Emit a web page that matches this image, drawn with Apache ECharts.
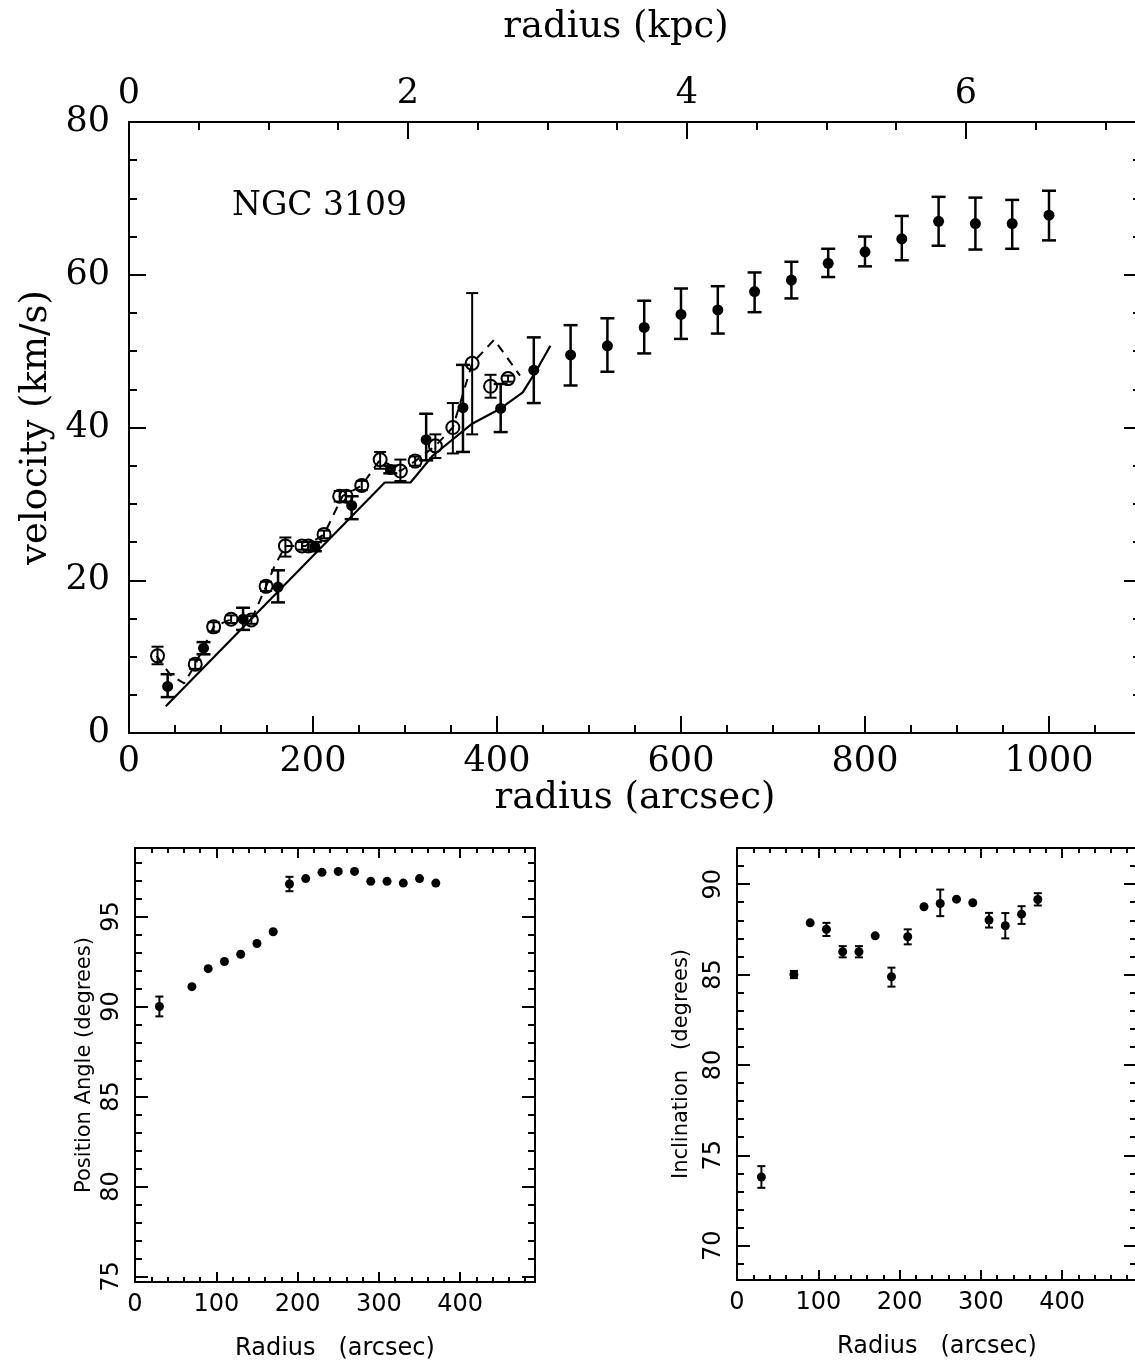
<!DOCTYPE html>
<html>
<head>
<meta charset="utf-8">
<script src="https://cdn.jsdelivr.net/npm/echarts@6/dist/echarts.min.js"></script>
<style>
  html, body { margin: 0; padding: 0; background: #fff; }
  #chart { width: 1135px; height: 1367px; }
</style>
</head>
<body>
<div id="chart"></div>
<script>
// rotation curve, [radius arcsec, velocity, low, high]
var velFilled = [
  [42, 6.1, 4.7, 7.7], [81, 11.1, 10.3, 11.9], [124, 14.9, 13.5, 16.4],
  [162, 19.1, 17.1, 21.3], [202, 24.4, 23.8, 25.0], [242, 29.8, 28.0, 31.0],
  [284, 34.5, 34.0, 35.0], [323, 38.4, 35.7, 41.8], [363, 42.6, 36.8, 48.2],
  [404, 42.5, 39.4, 45.7], [440, 47.5, 43.2, 51.8], [480, 49.5, 45.5, 53.4],
  [520, 50.7, 47.3, 54.3], [560, 53.1, 49.7, 56.6], [600, 54.8, 51.6, 58.2],
  [640, 55.4, 52.3, 58.5], [680, 57.8, 55.1, 60.3], [720, 59.3, 56.9, 61.7],
  [760, 61.5, 59.7, 63.4], [800, 63.0, 61.1, 65.0], [840, 64.7, 61.9, 67.7],
  [880, 67.0, 63.8, 70.2], [920, 66.7, 63.3, 70.1], [960, 66.7, 63.4, 69.8],
  [1000, 67.8, 64.5, 71.0]
];
var velOpen = [
  [31, 10.1, 9.0, 11.3], [72, 9.0, 8.4, 9.6], [92, 13.9, 13.3, 14.5],
  [111, 14.9, 14.4, 15.4], [133, 14.8, 14.3, 15.3], [149, 19.2, 18.6, 19.8],
  [170, 24.5, 23.1, 25.6], [188, 24.5, 24.0, 25.0], [195, 24.5, 24.0, 25.0],
  [212, 26.0, 25.5, 26.5], [229, 31.0, 30.3, 31.7], [236, 31.0, 30.3, 31.7],
  [253, 32.4, 31.8, 33.0], [273, 35.8, 34.6, 36.8], [295, 34.3, 33.0, 35.8],
  [311, 35.6, 35.0, 36.2], [333, 37.6, 36.0, 39.1], [352, 40.0, 36.6, 43.2],
  [373, 48.4, 39.1, 57.6], [393, 45.4, 43.9, 46.9], [412, 46.4, 46.0, 46.8]
];
var modelSolid = [[40, 3.5], [278, 32.8], [306, 32.8], [330, 36.3], [373, 40.5],
  [404, 42.5], [428, 44.6], [443, 47.5], [458, 50.7]];
var modelDashed = [[30, 10.1], [45, 7.6], [60, 6.5], [72, 9.0], [92, 13.9], [111, 14.9],
  [133, 14.8], [149, 19.2], [158, 21.8], [170, 24.5], [192, 24.5], [212, 26.0],
  [232, 31.0], [253, 32.4], [273, 35.8], [295, 34.3], [311, 35.6], [333, 37.6],
  [352, 40.0], [362, 44.0], [373, 48.4], [397, 51.5], [425, 46.8]];

// tilted ring fits
var ringRadius = [30, 70, 90, 110, 130, 150, 170, 190, 210, 230, 250, 270, 290, 310, 330, 350, 370];
var posAngle = [90.0, 91.1, 92.1, 92.5, 92.9, 93.5, 94.15, 96.8, 97.1, 97.45, 97.5, 97.5,
  96.95, 96.95, 96.85, 97.1, 96.85];
var posAngleErr = [[30, 89.45, 90.55], [190, 96.4, 97.2]];
var inclination = [73.8, 85.0, 87.86, 87.5, 86.26, 86.26, 87.14, 84.88, 87.09, 88.75, 88.93,
  89.17, 88.97, 88.01, 87.7, 88.34, 89.15];
var inclinationErr = [[30, 73.2, 74.4], [70, 84.8, 85.2], [110, 87.13, 87.86], [130, 85.95, 86.57],
  [150, 85.95, 86.57], [190, 84.33, 85.38], [210, 86.67, 87.5], [250, 88.23, 89.7],
  [310, 87.6, 88.41], [330, 87.0, 88.4], [350, 87.8, 88.78], [370, 88.82, 89.5]];

var arcsecTicks = [0, 200, 400, 600, 800, 1000];
var kpcTicks = [0, 2, 4, 6];
var velTicks = [0, 20, 40, 60, 80];
var ringTicks = [0, 100, 200, 300, 400];
var paTicks = [75, 80, 85, 90, 95];
var inclTicks = [70, 75, 80, 85, 90];

var ARCSEC_PER_KPC = 151.6;

function steps(a, b, s) {
  var out = [];
  for (var v = a; v <= b + 1e-9; v += s) out.push(+v.toFixed(4));
  return out;
}

function axis(grid, pos, min, max, ticks, len, o) {
  o = o || {};
  var lw = o.lw || 2;
  var a = {
    type: 'value', gridIndex: grid, position: pos, min: min, max: max,
    splitLine: {show: false},
    axisLine: {show: true, onZero: false, lineStyle: {color: '#000', width: lw}},
    axisTick: {show: true, inside: true, length: len, customValues: ticks,
      lineStyle: {color: '#000', width: lw}},
    axisLabel: {show: false}
  };
  if (o.labels) {
    a.axisLabel = Object.assign({show: true, customValues: o.labels, color: '#000',
      formatter: function (v) { return String(v); }}, o.labelStyle);
  }
  if (o.name) {
    a.name = o.name;
    a.nameLocation = 'middle';
    a.nameGap = o.nameGap;
    a.nameTextStyle = o.nameStyle;
  }
  return a;
}

var serif = {fontFamily: 'DejaVu Serif', fontSize: 35, color: '#000'};
var serifName = {fontFamily: 'DejaVu Serif', fontSize: 37, color: '#000'};
var sans = {fontFamily: 'DejaVu Sans', fontSize: 24, color: '#000'};
var sansName = {fontFamily: 'DejaVu Sans', fontSize: 21, color: '#000'};

var kpcMax = 1100 / ARCSEC_PER_KPC;

var xAxes = [
  axis(0, 'bottom', 0, 1100, arcsecTicks, 17, {lw: 2, labels: arcsecTicks,
    labelStyle: Object.assign({margin: 11}, serif),
    name: 'radius (arcsec)', nameGap: 44, nameStyle: serifName}),
  axis(0, 'bottom', 0, 1100, steps(0, 1100, 50), 8, {lw: 2}),
  axis(0, 'top', 0, kpcMax, kpcTicks, 17, {lw: 2, labels: kpcTicks,
    labelStyle: Object.assign({margin: 11}, serif),
    name: 'radius (kpc)', nameGap: 76,
    nameStyle: Object.assign({padding: [0, 38, 0, 0]}, serifName)}),
  axis(0, 'top', 0, kpcMax, steps(0, 7, 0.5), 8, {lw: 2}),

  axis(1, 'bottom', 0, 492, ringTicks, 10, {labels: ringTicks,
    labelStyle: Object.assign({margin: 11}, sans),
    name: 'Radius   (arcsec)', nameGap: 55, nameStyle: sans}),
  axis(1, 'bottom', 0, 492, steps(0, 480, 20), 5),
  axis(1, 'top', 0, 492, ringTicks, 10),
  axis(1, 'top', 0, 492, steps(0, 480, 20), 5),

  axis(2, 'bottom', 0, 492, ringTicks, 10, {labels: ringTicks,
    labelStyle: Object.assign({margin: 11}, sans),
    name: 'Radius   (arcsec)', nameGap: 55, nameStyle: sans}),
  axis(2, 'bottom', 0, 492, steps(0, 480, 20), 5),
  axis(2, 'top', 0, 492, ringTicks, 10),
  axis(2, 'top', 0, 492, steps(0, 480, 20), 5)
];

var yAxes = [
  axis(0, 'left', 0, 80, velTicks, 17, {lw: 2, labels: velTicks,
    labelStyle: Object.assign({margin: 19}, serif),
    name: 'velocity (km/s)', nameGap: 68, nameStyle: serifName}),
  axis(0, 'left', 0, 80, steps(0, 80, 5), 8, {lw: 2}),
  axis(0, 'right', 0, 80, velTicks, 17, {lw: 2}),
  axis(0, 'right', 0, 80, steps(0, 80, 5), 8, {lw: 2}),

  axis(1, 'left', 74.7, 98.8, paTicks, 13, {labels: paTicks,
    labelStyle: Object.assign({margin: 11, rotate: 90}, sans),
    name: 'Position Angle (degrees)', nameGap: 40, nameStyle: sansName}),
  axis(1, 'left', 74.7, 98.8, steps(75, 98, 1), 7),
  axis(1, 'right', 74.7, 98.8, paTicks, 13),
  axis(1, 'right', 74.7, 98.8, steps(75, 98, 1), 7),

  axis(2, 'left', 68.1, 92, inclTicks, 13, {labels: inclTicks,
    labelStyle: Object.assign({margin: 11, rotate: 90}, sans),
    name: 'Inclination   (degrees)', nameGap: 45, nameStyle: sansName}),
  axis(2, 'left', 68.1, 92, steps(69, 92, 1), 7),
  axis(2, 'right', 68.1, 92, inclTicks, 13),
  axis(2, 'right', 68.1, 92, steps(69, 92, 1), 7)
];

function errorBars(capHalf, lw) {
  return function (params, api) {
    var x = api.value(0);
    var lo = api.coord([x, api.value(1)]);
    var hi = api.coord([x, api.value(2)]);
    var st = {stroke: '#000', lineWidth: lw};
    return {
      type: 'group',
      children: [
        {type: 'line', shape: {x1: lo[0], y1: lo[1], x2: hi[0], y2: hi[1]}, style: st},
        {type: 'line', shape: {x1: lo[0] - capHalf, y1: lo[1], x2: lo[0] + capHalf, y2: lo[1]}, style: st},
        {type: 'line', shape: {x1: hi[0] - capHalf, y1: hi[1], x2: hi[0] + capHalf, y2: hi[1]}, style: st}
      ]
    };
  };
}

function errSeries(data, xi, yi, capHalf, lw) {
  return {
    type: 'custom', xAxisIndex: xi, yAxisIndex: yi, silent: true, z: 3,
    renderItem: errorBars(capHalf, lw),
    encode: {x: 0, y: [1, 2]},
    data: data
  };
}

var chart = echarts.init(document.getElementById('chart'));
chart.setOption({
  animation: false,
  backgroundColor: '#fff',
  grid: [
    {left: 129, top: 122, right: -6, height: 611, outerBoundsMode: 'none'},
    {left: 135, top: 848, width: 400, height: 434, outerBoundsMode: 'none'},
    {left: 737, top: 848, width: 400, height: 432, outerBoundsMode: 'none'}
  ],
  xAxis: xAxes,
  yAxis: yAxes,
  graphic: [{
    type: 'text', left: 232, top: 190,
    style: {text: 'NGC 3109', font: '33px "DejaVu Serif"', fill: '#000'}
  }],
  series: [
    {type: 'line', xAxisIndex: 0, yAxisIndex: 0, data: modelSolid, showSymbol: false,
      lineStyle: {color: '#000', width: 2.2}, z: 2},
    {type: 'line', xAxisIndex: 0, yAxisIndex: 0, data: modelDashed, showSymbol: false,
      lineStyle: {color: '#000', width: 2, type: [9, 7]}, z: 2},
    errSeries(velFilled.map(function (d) { return [d[0], d[2], d[3]]; }), 0, 0, 7, 2.5),
    errSeries(velOpen.map(function (d) { return [d[0], d[2], d[3]]; }), 0, 0, 6, 2),
    {type: 'scatter', xAxisIndex: 0, yAxisIndex: 0, data: velFilled, encode: {x: 0, y: 1},
      symbol: 'circle', symbolSize: 11, itemStyle: {color: '#000', opacity: 1}, z: 4},
    {type: 'scatter', xAxisIndex: 0, yAxisIndex: 0, data: velOpen, encode: {x: 0, y: 1},
      symbol: 'circle', symbolSize: 13,
      itemStyle: {color: 'rgba(0,0,0,0)', borderColor: '#000', borderWidth: 2, opacity: 1}, z: 4},

    errSeries(posAngleErr, 4, 4, 4, 2),
    {type: 'scatter', xAxisIndex: 4, yAxisIndex: 4,
      data: ringRadius.map(function (r, i) { return [r, posAngle[i]]; }),
      symbol: 'circle', symbolSize: 9, itemStyle: {color: '#000', opacity: 1}, z: 4},

    errSeries(inclinationErr, 8, 8, 4, 2),
    {type: 'scatter', xAxisIndex: 8, yAxisIndex: 8,
      data: ringRadius.map(function (r, i) { return [r, inclination[i]]; }),
      symbol: 'circle', symbolSize: 9, itemStyle: {color: '#000', opacity: 1}, z: 4}
  ]
});
</script>
</body>
</html>
